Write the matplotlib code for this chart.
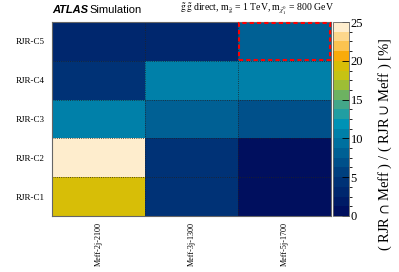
import matplotlib
matplotlib.use('Agg')
import matplotlib.pyplot as plt
import numpy as np
from matplotlib.colors import ListedColormap, BoundaryNorm, LinearSegmentedColormap
from matplotlib.patches import Rectangle

# signal regions
rjr_regions = ['RJR-C1', 'RJR-C2', 'RJR-C3', 'RJR-C4', 'RJR-C5']
meff_regions = ['Meff-2j-2100', 'Meff-3j-1300', 'Meff-5j-1700']

# overlap in % (rows = RJR, columns = Meff)
overlap_c1 = [18.8, 4.5, 1.0]
overlap_c2 = [24.6, 4.5, 1.0]
overlap_c3 = [10.5, 8.0, 7.0]
overlap_c4 = [4.5, 10.0, 11.0]
overlap_c5 = [2.5, 2.5, 8.0]

# highlighted cell
best_row = 'RJR-C5'
best_col = 'Meff-5j-1700'

# palette anchors (value, colour), ROOT-like, then cut into 20 bands
anchor_vals = [0, 5, 10, 12, 14, 15, 16.5, 18, 19.5, 20.5, 22, 24, 25]
anchor_cols = ['#000a5a', '#00387a', '#0078a4', '#0094b6', '#3aa592', '#50aa7c',
               '#90bc40', '#c4c414', '#d8be06', '#f9a800', '#fcc452', '#fee6b8', '#fff6ea']
smooth = LinearSegmentedColormap.from_list(
    'atlas', list(zip(np.array(anchor_vals) / 25.0, anchor_cols)))
levels = np.linspace(0, 25, 21)
cmap = ListedColormap([smooth((a + b) / 50.0) for a, b in zip(levels[:-1], levels[1:])])
norm = BoundaryNorm(levels, cmap.N)

data = np.array([overlap_c1, overlap_c2, overlap_c3, overlap_c4, overlap_c5])

plt.rcParams['font.family'] = ['Liberation Serif', 'DejaVu Serif']
plt.rcParams['mathtext.fontset'] = 'stix'
fig = plt.figure(figsize=(3.99, 2.72), dpi=100)
ax = fig.add_axes([0.130, 0.206, 0.700, 0.713])
cax = fig.add_axes([0.835, 0.206, 0.040, 0.713])

mesh = ax.pcolormesh(np.arange(len(meff_regions) + 1), np.arange(len(rjr_regions) + 1),
                     data, cmap=cmap, norm=norm)
ax.set_xlim(0, len(meff_regions))
ax.set_ylim(0, len(rjr_regions))
ax.set_xticks(np.arange(len(meff_regions)) + 0.5)
ax.set_xticklabels(meff_regions, rotation=90, fontsize=5.9)
ax.set_yticks(np.arange(len(rjr_regions)) + 0.5)
ax.set_yticklabels(rjr_regions, fontsize=6.5)
ax.tick_params(axis='y', length=0, pad=5)
ax.tick_params(axis='x', length=0, pad=4)
for v in range(1, len(meff_regions)):
    ax.axvline(v, color='#222222', lw=0.6, ls=':')
for v in range(1, len(rjr_regions)):
    ax.axhline(v, color='#222222', lw=0.6, ls=':')
for s in ax.spines.values():
    s.set_color('#666666')
    s.set_linewidth(0.8)

bx = meff_regions.index(best_col)
by = rjr_regions.index(best_row)
ax.add_patch(Rectangle((bx + 0.01, by + 0.02), 0.98, 0.96, fill=False, ec='red',
                       lw=1.5, ls=(0, (2, 1.5)), clip_on=False, zorder=5))

cb = fig.colorbar(mesh, cax=cax, ticks=[0, 5, 10, 15, 20, 25])
cb.outline.set_color('#666666')
cb.outline.set_linewidth(0.6)
cax.tick_params(labelsize=9, length=5, width=0.6, direction='in', pad=1)

fig.text(0.965, 0.47, r'( RJR $\cap$ Meff ) / ( RJR $\cup$ Meff ) [%]', fontsize=10.5,
         rotation=90, ha='center', va='center')

fig.text(0.130, 0.962, 'ATLAS', fontsize=8, fontweight='bold', fontstyle='italic',
         family='Liberation Sans', va='center')
fig.text(0.225, 0.962, 'Simulation', fontsize=8, family='Liberation Sans', va='center')
fig.text(0.838, 0.965,
         r'$\tilde{\mathrm{g}}\,\tilde{\mathrm{g}}$ direct, m$_{\tilde{\mathrm{g}}}$ = 1 TeV, '
         r'm$_{\tilde{\chi}^0_1}$ = 800 GeV',
         fontsize=7, ha='right', va='center')

fig.savefig('out.png', dpi=100)
